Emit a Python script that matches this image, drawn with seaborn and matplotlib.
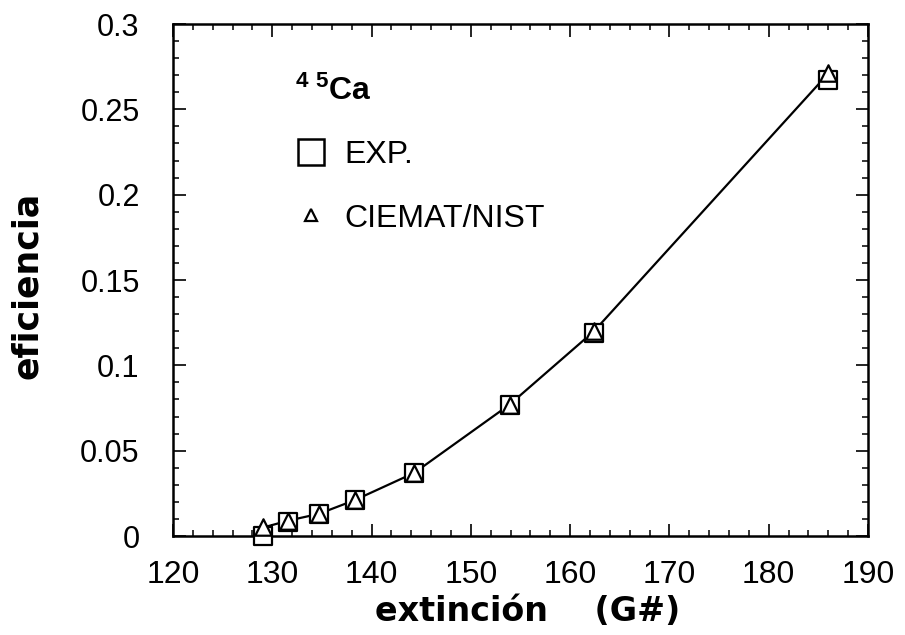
import numpy as np
import pandas as pd
import matplotlib
matplotlib.use("Agg")
import matplotlib.pyplot as plt
import seaborn as sns
from matplotlib.lines import Line2D
from matplotlib.ticker import MultipleLocator, FixedLocator, FixedFormatter

# ---- data ----
extincion = [129.1, 131.6, 134.7, 138.3, 144.3, 153.9, 162.4, 186.0]
eficiencia_exp = [0.000, 0.008, 0.013, 0.021, 0.037, 0.077, 0.119, 0.267]
eficiencia_ciemat = [0.005, 0.009, 0.013, 0.021, 0.037, 0.077, 0.120, 0.271]
x_ticks = [120, 130, 140, 150, 160, 170, 180, 190]
y_ticks = [0, 0.05, 0.1, 0.15, 0.2, 0.25, 0.3]
y_tick_labels = ["0", "0.05", "0.1", "0.15", "0.2", "0.25", "0.3"]
label_exp = "EXP."
label_ciemat = "CIEMAT/NIST"
legend_title = r"$\mathbf{^{4\ 5}Ca}$"
x_label = "extinción    (G#)"
y_label = "eficiencia"

df = pd.DataFrame({"x": extincion, "exp": eficiencia_exp, "ciemat": eficiencia_ciemat})

sns.set_theme(style="ticks")
plt.rcParams['font.family'] = ['Liberation Sans', 'DejaVu Sans']
plt.rcParams['mathtext.fontset'] = 'custom'
plt.rcParams['mathtext.rm'] = 'Liberation Sans'
plt.rcParams['mathtext.bf'] = 'Liberation Sans:bold'
for k in ['text.color', 'axes.labelcolor', 'xtick.color', 'ytick.color', 'axes.edgecolor']:
    plt.rcParams[k] = 'black'

fig = plt.figure(figsize=(9.05, 6.35), dpi=100)
ax = fig.add_axes([173 / 905, 99 / 635, 695 / 905, 512 / 635])

sns.lineplot(data=df, x="x", y="ciemat", ax=ax, color="black", lw=1.6,
             sort=False, estimator=None, zorder=2)
sns.scatterplot(data=df, x="x", y="exp", ax=ax, marker="s", s=150,
                facecolor="white", edgecolor="black", linewidth=1.6, zorder=3,
                clip_on=False)
sns.scatterplot(data=df, x="x", y="ciemat", ax=ax, marker="^", s=140,
                facecolor="white", edgecolor="black", linewidth=1.6, zorder=4,
                clip_on=False)

ax.set_xlim(120, 190)
ax.set_ylim(0, 0.3)
ax.xaxis.set_major_locator(FixedLocator(x_ticks))
ax.xaxis.set_minor_locator(MultipleLocator(2))
ax.yaxis.set_major_locator(FixedLocator(y_ticks))
ax.yaxis.set_major_formatter(FixedFormatter(y_tick_labels))
ax.yaxis.set_minor_locator(MultipleLocator(0.01))

for s in ax.spines.values():
    s.set_linewidth(1.8)
    s.set_color("black")
ax.tick_params(which="both", direction="in", top=True, right=True, color="black")
ax.tick_params(which="major", length=9, width=1.2)
ax.tick_params(which="minor", length=4.5, width=1.1)
ax.tick_params(axis="x", which="major", labelsize=23, pad=17)
ax.tick_params(axis="y", which="major", labelsize=22, pad=24)

ax.set_xlabel(x_label, fontsize=24, fontweight="bold",
              family=["DejaVu Sans"])
ax.set_ylabel(y_label, fontsize=25, fontweight="bold",
              family=["DejaVu Sans"])
ax.xaxis.set_label_coords(0.51, -0.116)
ax.yaxis.set_label_coords(-0.186, 0.49)

handles = [
    Line2D([], [], ls="none", marker="s", markersize=19, markerfacecolor="white",
           markeredgecolor="black", markeredgewidth=1.8, label=label_exp),
    Line2D([], [], ls="none", marker="^", markersize=9, markerfacecolor="white",
           markeredgecolor="black", markeredgewidth=1.6, label=label_ciemat),
]
leg = ax.legend(handles=handles, title=legend_title, loc="upper left",
                bbox_to_anchor=(0.175, 0.90), frameon=False, fontsize=23,
                title_fontsize=23, handlelength=1.0, handletextpad=0.55,
                labelspacing=1.05, borderpad=0, borderaxespad=0)
leg._legend_box.align = "left"

fig.savefig("out.png", dpi=100)
